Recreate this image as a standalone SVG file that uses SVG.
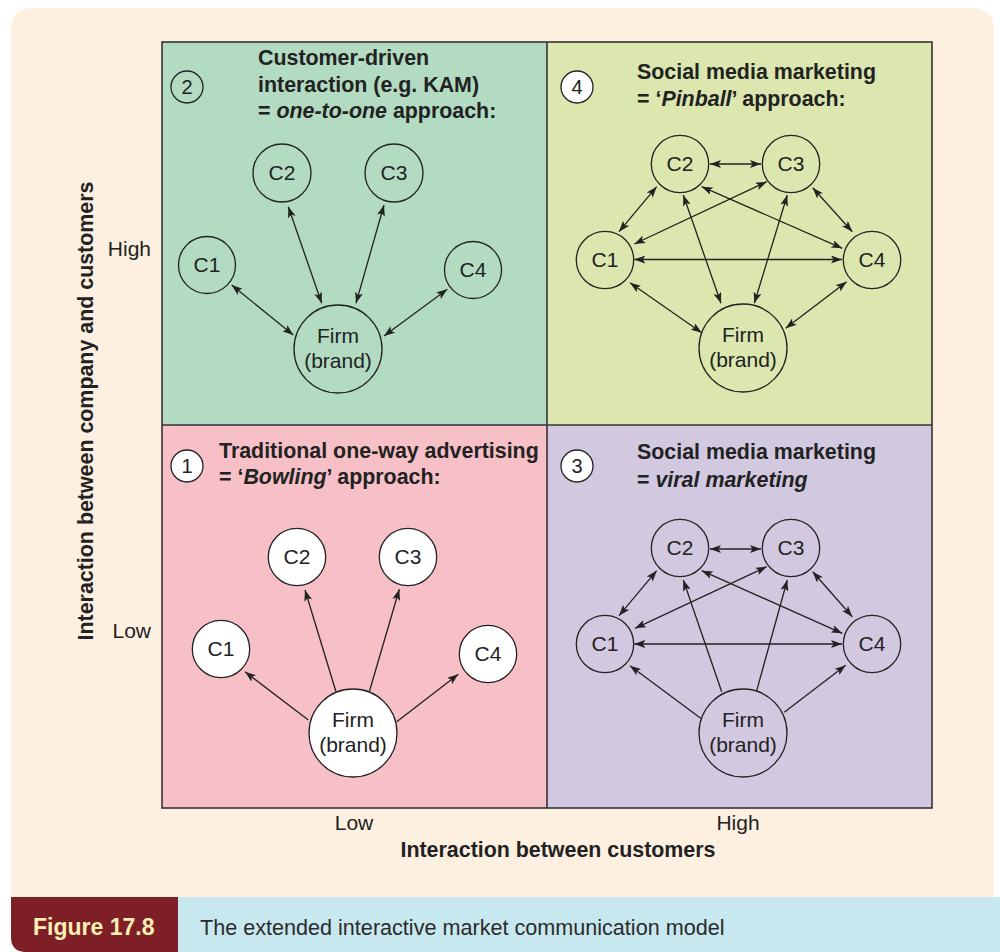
<svg xmlns="http://www.w3.org/2000/svg" width="1000" height="952" viewBox="0 0 1000 952">
  <defs>
    <marker id="ah" viewBox="0 0 11 8" refX="11" refY="4" markerWidth="11" markerHeight="8" markerUnits="userSpaceOnUse" orient="auto-start-reverse">
      <path d="M0,0 L11,4 L0,8 L2.5,4 Z" fill="#222"/>
    </marker>
    <style>
      text { font-family: "Liberation Sans", Arial, Helvetica, sans-serif; fill: #222; }
      .title { font-size: 21.4px; font-weight: bold; }
      .axis { font-size: 21px; }
      .axisb { font-size: 21.4px; font-weight: bold; }
      .lbl { font-size: 21px; text-anchor: middle; }
      .node { fill: none; stroke: #222; stroke-width: 1.3; }
      .node.w { fill: #fff; }
      .num { fill: #fff; stroke: #222; stroke-width: 1.3; }
      .num.clear { fill: none; }
      .numt { font-size: 20px; text-anchor: middle; }
      .c line { stroke: #222; stroke-width: 1.3; }
      .c .bi { marker-start: url(#ah); marker-end: url(#ah); }
      .c .one { marker-end: url(#ah); }
      .quad { stroke: #333; stroke-width: 1.6; }
    </style>
  </defs>

  <!-- panel background -->
  <path d="M11,30 Q11,8 33,8 L972,8 Q994,8 994,30 L994,897 L11,897 Z" fill="#FEF0E1"/>

  <!-- caption bar -->
  <g id="caption">
    <path d="M11,897 L178,897 L178,952 L26,952 Q11,952 11,937 Z" fill="#7E1F28"/>
    <rect x="178" y="897" width="822" height="55" fill="#C7E8EF"/>
    <text x="33" y="935" style="font-size:23px;font-weight:bold;fill:#FBEFB5">Figure 17.8</text>
    <text x="200" y="935" style="font-size:21.6px;fill:#2b2b2b">The extended interactive market communication model</text>
  </g>

  <!-- quadrants -->
  <g id="quadrants">
    <rect x="162" y="42" width="385" height="383" fill="#B2DBC2"/>
    <rect x="547" y="42" width="385" height="383" fill="#DBE7AF"/>
    <rect x="162" y="425" width="385" height="383" fill="#F7BFC6"/>
    <rect x="547" y="425" width="385" height="383" fill="#D2C8E0"/>
    <rect class="quad" x="162" y="42" width="770" height="766" fill="none"/>
    <line class="quad" x1="547" y1="42" x2="547" y2="808"/>
    <line class="quad" x1="162" y1="425" x2="932" y2="425"/>
  </g>

  <!-- axes -->
  <g id="axes">
    <text class="axisb" transform="translate(93,411) rotate(-90)" text-anchor="middle">Interaction between company and customers</text>
    <text class="axis" x="151" y="256" text-anchor="end">High</text>
    <text class="axis" x="151" y="638" text-anchor="end">Low</text>
    <text class="axis" x="354" y="830" text-anchor="middle">Low</text>
    <text class="axis" x="738" y="830" text-anchor="middle">High</text>
    <text class="axisb" x="558" y="857" text-anchor="middle">Interaction between customers</text>
  </g>

  <!-- quadrant headings -->
  <g id="q2-title">
    <circle class="num clear" cx="187" cy="87" r="16"/>
    <text class="numt" x="187" y="94">2</text>
    <text class="title" x="258" y="65">Customer-driven</text>
    <text class="title" x="258" y="92">interaction (e.g. KAM)</text>
    <text class="title" x="258" y="118">= <tspan font-style="italic">one-to-one</tspan> approach:</text>
  </g>
  <g id="q4-title">
    <circle class="num" cx="577" cy="87" r="16"/>
    <text class="numt" x="577" y="94">4</text>
    <text class="title" x="637" y="79">Social media marketing</text>
    <text class="title" x="637" y="106">= ‘<tspan font-style="italic">Pinball</tspan>’ approach:</text>
  </g>
  <g id="q1-title">
    <circle class="num" cx="187" cy="466" r="16"/>
    <text class="numt" x="187" y="473">1</text>
    <text class="title" x="219" y="458">Traditional one-way advertising</text>
    <text class="title" x="219" y="484">= ‘<tspan font-style="italic">Bowling</tspan>’ approach:</text>
  </g>
  <g id="q3-title">
    <circle class="num" cx="577" cy="466" r="16"/>
    <text class="numt" x="577" y="473">3</text>
    <text class="title" x="637" y="459">Social media marketing</text>
    <text class="title" x="637" y="487">= <tspan font-style="italic">viral marketing</tspan></text>
  </g>

  <!-- connectors -->
  <g id="connectors" class="c">
    <!-- quadrant 2: one-to-one -->
    <line class="bi" x1="231.7" y1="285" x2="293.3" y2="335"/>
    <line class="bi" x1="288.3" y1="206.7" x2="321.7" y2="303.3"/>
    <line class="bi" x1="384" y1="205" x2="356" y2="303.3"/>
    <line class="bi" x1="447.3" y1="289.3" x2="384" y2="336"/>
    <!-- quadrant 4: pinball -->
    <line class="bi" x1="710" y1="164" x2="761" y2="164"/>
    <line class="bi" x1="619" y1="231.7" x2="656.7" y2="186.7"/>
    <line class="bi" x1="634.3" y1="244" x2="766.7" y2="181.7"/>
    <line class="bi" x1="701.7" y1="186.7" x2="842.3" y2="248.3"/>
    <line class="bi" x1="812.7" y1="187.7" x2="852.3" y2="231.7"/>
    <line class="bi" x1="634.3" y1="259.5" x2="842" y2="259.5"/>
    <line class="bi" x1="630" y1="282.7" x2="701.7" y2="332.7"/>
    <line class="bi" x1="846.7" y1="281.7" x2="785.7" y2="328.3"/>
    <line class="bi" x1="683.3" y1="195" x2="721" y2="303.3"/>
    <line class="bi" x1="787.3" y1="195" x2="754.3" y2="303.3"/>
    <!-- quadrant 1: bowling -->
    <line class="one" x1="308.3" y1="720" x2="245" y2="671.7"/>
    <line class="one" x1="336" y1="691.7" x2="305" y2="590"/>
    <line class="one" x1="369.3" y1="691.7" x2="399.3" y2="589.3"/>
    <line class="one" x1="396.7" y1="721.7" x2="458.3" y2="674.3"/>
    <!-- quadrant 3: viral -->
    <line class="bi" x1="710" y1="549" x2="761" y2="549"/>
    <line class="bi" x1="619" y1="615.7" x2="656.7" y2="570.7"/>
    <line class="bi" x1="635" y1="628.3" x2="766.7" y2="566.7"/>
    <line class="bi" x1="701.7" y1="570.7" x2="842.3" y2="633.3"/>
    <line class="bi" x1="812.7" y1="571.7" x2="852.3" y2="616.7"/>
    <line class="bi" x1="634.3" y1="644" x2="842" y2="644"/>
    <line class="one" x1="700.7" y1="718.3" x2="630" y2="665.7"/>
    <line class="one" x1="721.7" y1="691.7" x2="683.3" y2="580"/>
    <line class="one" x1="756.7" y1="690.7" x2="787.3" y2="580"/>
    <line class="one" x1="784.3" y1="712.3" x2="845.7" y2="665.3"/>
  </g>

  <!-- quadrant 2 nodes -->
  <g id="q2-c1"><circle class="node" cx="207" cy="265" r="28.5"/><text class="lbl" x="207" y="272">C1</text></g>
  <g id="q2-c2"><circle class="node" cx="282" cy="173" r="29"/><text class="lbl" x="282" y="180">C2</text></g>
  <g id="q2-c3"><circle class="node" cx="394" cy="173" r="29"/><text class="lbl" x="394" y="180">C3</text></g>
  <g id="q2-c4"><circle class="node" cx="473" cy="270" r="28.5"/><text class="lbl" x="473" y="277">C4</text></g>
  <g id="q2-firm"><circle class="node" cx="338" cy="349" r="44"/><text class="lbl" x="338" y="343">Firm</text><text class="lbl" x="338" y="368">(brand)</text></g>

  <!-- quadrant 4 nodes -->
  <g id="q4-c1"><circle class="node" cx="605" cy="260" r="28.7"/><text class="lbl" x="605" y="267">C1</text></g>
  <g id="q4-c2"><circle class="node" cx="680" cy="164" r="28.7"/><text class="lbl" x="680" y="171">C2</text></g>
  <g id="q4-c3"><circle class="node" cx="791" cy="164" r="28.7"/><text class="lbl" x="791" y="171">C3</text></g>
  <g id="q4-c4"><circle class="node" cx="872" cy="260" r="28.7"/><text class="lbl" x="872" y="267">C4</text></g>
  <g id="q4-firm"><circle class="node" cx="743" cy="348" r="44"/><text class="lbl" x="743" y="342">Firm</text><text class="lbl" x="743" y="367">(brand)</text></g>

  <!-- quadrant 1 nodes -->
  <g id="q1-c1"><circle class="node w" cx="221" cy="649" r="28.7"/><text class="lbl" x="221" y="656">C1</text></g>
  <g id="q1-c2"><circle class="node w" cx="297" cy="557" r="28.7"/><text class="lbl" x="297" y="564">C2</text></g>
  <g id="q1-c3"><circle class="node w" cx="408" cy="557" r="28.7"/><text class="lbl" x="408" y="564">C3</text></g>
  <g id="q1-c4"><circle class="node w" cx="488" cy="654" r="28.7"/><text class="lbl" x="488" y="661">C4</text></g>
  <g id="q1-firm"><circle class="node w" cx="353" cy="733" r="44"/><text class="lbl" x="353" y="727">Firm</text><text class="lbl" x="353" y="752">(brand)</text></g>

  <!-- quadrant 3 nodes -->
  <g id="q3-c1"><circle class="node" cx="605" cy="644" r="28.7"/><text class="lbl" x="605" y="651">C1</text></g>
  <g id="q3-c2"><circle class="node" cx="680" cy="548" r="28.7"/><text class="lbl" x="680" y="555">C2</text></g>
  <g id="q3-c3"><circle class="node" cx="791" cy="548" r="28.7"/><text class="lbl" x="791" y="555">C3</text></g>
  <g id="q3-c4"><circle class="node" cx="872" cy="644" r="28.7"/><text class="lbl" x="872" y="651">C4</text></g>
  <g id="q3-firm"><circle class="node" cx="743" cy="733" r="44"/><text class="lbl" x="743" y="727">Firm</text><text class="lbl" x="743" y="752">(brand)</text></g>
</svg>
